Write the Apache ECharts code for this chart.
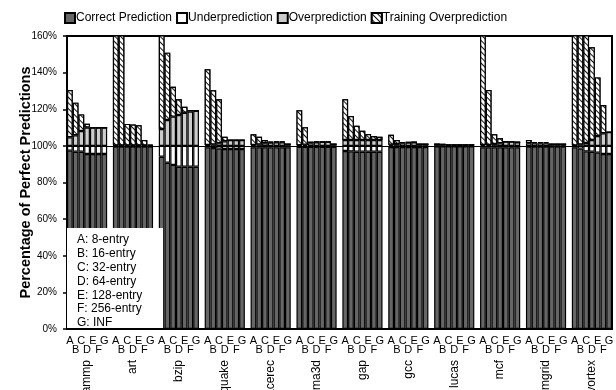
<!DOCTYPE html>
<html>
<head>
<meta charset="utf-8">
<script src="https://cdn.jsdelivr.net/npm/echarts@6/dist/echarts.min.js"></script>
<style>
  html, body { margin: 0; padding: 0; background: #fff; }
  #chart { width: 616px; height: 390px; }
</style>
</head>
<body>
<div id="chart"></div>
<script>
const benchmarks = ["ammp", "art", "bzip", "equake", "facerec", "fma3d", "gap", "gcc", "lucas", "mcf", "mgrid", "vortex"];
const configs = ["A", "B", "C", "D", "E", "F", "G"];
const configNames = ["A: 8-entry", "B: 16-entry", "C: 32-entry", "D: 64-entry", "E: 128-entry", "F: 256-entry", "G: INF"];
const yTicks = [0, 20, 40, 60, 80, 100, 120, 140, 160];

// one row per benchmark, one value per config A..G (percent of perfect predictions)
const correct = [
  [97.4, 96.8, 96.8, 95.6, 95.6, 95.6, 95.6],
  [99.6, 99.6, 99.6, 99.6, 99.6, 99.6, 99.6],
  [94.1, 90.8, 89.6, 88.6, 88.6, 88.6, 88.6],
  [99.2, 98.8, 98.5, 98.3, 98.3, 98.3, 98.3],
  [99.2, 99.2, 99.2, 99.2, 99.2, 99.2, 99.2],
  [99.5, 99.5, 99.5, 99.5, 99.5, 99.5, 99.5],
  [97.2, 97.0, 96.8, 96.8, 96.8, 96.8, 96.8],
  [99.4, 99.4, 99.4, 99.4, 99.4, 99.4, 99.4],
  [99.8, 99.8, 99.8, 99.8, 99.8, 99.8, 99.8],
  [99.2, 99.2, 99.2, 99.2, 99.2, 99.2, 99.2],
  [99.6, 99.6, 99.6, 99.6, 99.6, 99.6, 99.6],
  [99.2, 98.5, 97.0, 96.8, 96.3, 95.6, 95.6],
];
const under = [
  [2.6, 3.2, 3.2, 4.4, 4.4, 4.4, 4.4],
  [0.4, 0.4, 0.4, 0.4, 0.4, 0.4, 0.4],
  [5.9, 9.2, 10.4, 11.4, 11.4, 11.4, 11.4],
  [0.8, 1.2, 1.5, 1.7, 1.7, 1.7, 1.7],
  [0.8, 0.8, 0.8, 0.8, 0.8, 0.8, 0.8],
  [0.5, 0.5, 0.5, 0.5, 0.5, 0.5, 0.5],
  [2.8, 3.0, 3.2, 3.2, 3.2, 3.2, 3.2],
  [0.6, 0.6, 0.6, 0.6, 0.6, 0.6, 0.6],
  [0.2, 0.2, 0.2, 0.2, 0.2, 0.2, 0.2],
  [0.8, 0.8, 0.8, 0.8, 0.8, 0.8, 0.8],
  [0.4, 0.4, 0.4, 0.4, 0.4, 0.4, 0.4],
  [0.8, 1.5, 3.0, 3.2, 3.7, 4.4, 4.4],
];
const over = [
  [4.7, 5.8, 8.1, 10.0, 10.0, 10.0, 10.0],
  [0.3, 0.3, 0.3, 0.3, 0.3, 0.3, 0.3],
  [9.2, 14.1, 16.0, 16.9, 18.1, 18.8, 19.2],
  [0.5, 0.8, 1.5, 2.5, 3.2, 3.2, 3.2],
  [0.5, 0.8, 1.5, 1.8, 2.0, 2.0, 1.0],
  [0.4, 0.6, 1.5, 2.0, 2.2, 2.2, 1.0],
  [3.2, 3.2, 3.2, 3.2, 3.2, 3.2, 3.2],
  [0.6, 1.0, 1.5, 1.8, 2.0, 1.0, 1.0],
  [1.0, 0.8, 0.5, 0.5, 0.5, 0.5, 0.5],
  [0.5, 0.5, 1.0, 1.5, 2.3, 2.3, 2.0],
  [1.5, 1.5, 1.5, 1.5, 1.0, 1.0, 1.0],
  [0.3, 0.8, 1.6, 3.2, 5.4, 6.9, 7.5],
];
const training = [
  [25.8, 17.8, 9.1, 2.1, 0, 0, 0],
  [80, 80, 11.7, 11.4, 10.9, 2.9, 0.3],
  [70, 36.8, 16.3, 8.5, 3.3, 0.8, 0],
  [41.3, 29.6, 23.9, 2.5, 0, 0, 0],
  [5.8, 4.2, 1.7, 0.5, 0.3, 0.3, 0],
  [19.0, 9.6, 0.8, 0.3, 0.1, 0.1, 0],
  [22.2, 13.1, 7.8, 5.1, 3.3, 2.2, 1.8],
  [5.5, 2.2, 0.5, 0.2, 0, 0, 0],
  [0, 0, 0, 0, 0, 0, 0],
  [80, 30, 5.3, 2.6, 0, 0, 0],
  [1.7, 0.5, 0.5, 0.5, 0, 0, 0],
  [80, 80, 80, 50.6, 32, 15.4, 0],
];

// flatten: 7 bars per benchmark, one empty slot between benchmarks
function flatten(rows) {
  const out = [];
  rows.forEach((row, g) => {
    if (g > 0) out.push(null);
    row.forEach((v) => out.push(v));
  });
  return out;
}
const slotLetters = [];
const slotNames = [];
benchmarks.forEach((name, g) => {
  if (g > 0) { slotLetters.push(""); slotNames.push(""); }
  configs.forEach((c, i) => {
    slotLetters.push(i % 2 === 1 ? "\n" + c : c);
    slotNames.push(i === 3 ? name : "");
  });
});

const font = "Liberation Sans";
const barBorder = { borderColor: "#000", borderWidth: 1.2 };

function barSeries(name, rows, itemStyle, extra) {
  return Object.assign({
    name: name,
    type: "bar",
    stack: "total",
    data: flatten(rows),
    barCategoryGap: 0,
    barGap: 0,
    itemStyle: Object.assign({}, barBorder, itemStyle),
    animation: false,
  }, extra || {});
}

const chart = echarts.init(document.getElementById("chart"), null, { renderer: "canvas" });

chart.setOption({
  backgroundColor: "#fff",
  animation: false,
  textStyle: { fontFamily: font, color: "#000" },
  legend: {
    top: 7,
    left: 59,
    icon: "rect",
    itemWidth: 10,
    itemHeight: 10,
    itemGap: 4,
    textStyle: { fontFamily: font, fontSize: 12, color: "#000", padding: [0, 0, 0, -4] },
    data: ["Correct Prediction", "Underprediction", "Overprediction", "Training Overprediction"],
  },
  grid: {
    left: 67, right: 4, top: 36, bottom: 61,
    outerBoundsMode: "none",
    containLabel: false,
    show: true, borderColor: "#000", borderWidth: 2,
  },
  xAxis: [
    {
      type: "category",
      data: slotLetters,
      axisLine: { lineStyle: { color: "#000", width: 2 } },
      axisTick: { show: false },
      axisLabel: { interval: 0, fontFamily: font, fontSize: 11, lineHeight: 9, color: "#000", margin: 7 },
    },
    {
      type: "category",
      data: slotNames,
      position: "bottom",
      axisLine: { show: false },
      axisTick: { show: false },
      axisLabel: { interval: 0, rotate: 90, fontFamily: font, fontSize: 12, color: "#000", margin: 31 },
    },
  ],
  yAxis: {
    type: "value",
    min: yTicks[0],
    max: yTicks[yTicks.length - 1],
    interval: 20,
    name: "Percentage of Perfect Predictions",
    nameLocation: "middle",
    nameGap: 34,
    nameMoveOverlap: false,
    nameTextStyle: { fontFamily: font, fontSize: 14.5, fontWeight: "bold", color: "#000" },
    axisLine: { show: true, lineStyle: { color: "#000", width: 2 } },
    axisTick: { show: true, inside: false, length: 4, lineStyle: { color: "#000", width: 1.5 } },
    axisLabel: { formatter: "{value}%", fontFamily: font, fontSize: 10, color: "#000", margin: 10 },
    splitLine: { show: false },
  },
  series: [
    barSeries("Correct Prediction", correct, { color: "#666666" }),
    barSeries("Underprediction", under, { color: "#ffffff" }),
    barSeries("Overprediction", over, { color: "#cccccc" }),
    barSeries("Training Overprediction", training, {
      color: "#ffffff",
      decal: {
        symbol: "rect",
        color: "#111",
        backgroundColor: "#fff",
        dashArrayX: [1, 0],
        dashArrayY: [1, 2.6],
        rotation: Math.PI / 4,
      },
    }, {
      markLine: {
        silent: true,
        symbol: "none",
        label: { show: false },
        lineStyle: { color: "#000", width: 1.2, type: "solid" },
        data: [{ yAxis: 100 }],
      },
    }),
  ],
  graphic: [
    {
      type: "rect",
      z: 100,
      zlevel: 1,
      shape: { x: 67, y: 228, width: 96, height: 100 },
      style: { fill: "#fff" },
    },
  ].concat(configNames.map((t, i) => ({
    type: "text",
    z: 101,
    zlevel: 1,
    x: 77,
    y: 234 + i * 13.8,
    style: { text: t, fontFamily: font, fontSize: 12, fill: "#000" },
  }))),
});
</script>
</body>
</html>
